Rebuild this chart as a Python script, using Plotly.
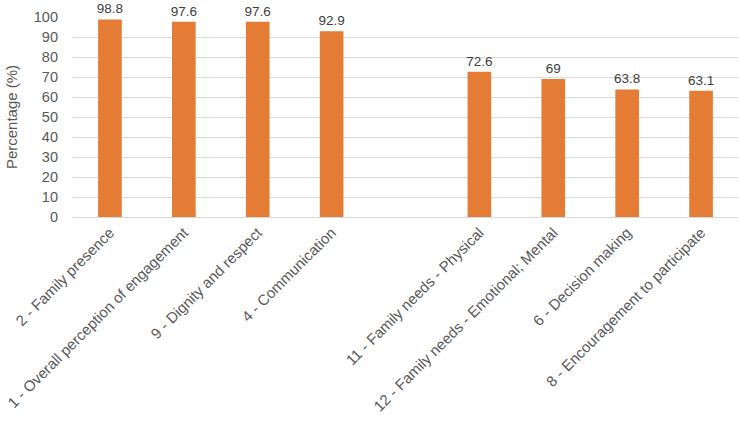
import plotly.graph_objects as go

# domains, with a blank slot separating the two groups
categories = ["2 - Family presence",
              "1 - Overall perception of engagement",
              "9 - Dignity and respect",
              "4 - Communication",
              " ",
              "11 - Family needs - Physical",
              "12 - Family needs - Emotional; Mental",
              "6 - Decision making",
              "8 - Encouragement to participate"]
percentages = [98.8, 97.6, 97.6, 92.9, None, 72.6, 69, 63.8, 63.1]
bar_labels = ["98.8", "97.6", "97.6", "92.9", "", "72.6", "69", "63.8", "63.1"]

fig = go.Figure(go.Bar(
    x=categories, y=percentages,
    text=bar_labels, textposition="outside", cliponaxis=False,
    textfont=dict(size=13.5, color="#404040"),
    marker=dict(color="#E47C36", line=dict(width=0)),
    width=0.32,
))

fig.update_layout(
    width=739, height=424,
    margin=dict(l=73, r=1, t=17, b=207),
    paper_bgcolor="white", plot_bgcolor="white",
    font=dict(family="Liberation Sans, Arial, sans-serif", color="#595959", size=14),
    showlegend=False,
    uniformtext=dict(minsize=13.5, mode="show"),
)
fig.update_xaxes(tickangle=-45, showgrid=False, showline=True, automargin=False,
                 linecolor="#D9D9D9", linewidth=1, ticks="",
                 tickfont=dict(size=15, color="#595959"))
fig.update_yaxes(range=[0, 100], dtick=10, showgrid=True, gridcolor="#D9D9D9",
                 zeroline=False, ticks="", automargin=False, ticklabelstandoff=14,
                 tickfont=dict(size=14.5, color="#595959"),
                 title=dict(text="Percentage (%)", font=dict(size=15, color="#595959"),
                            standoff=12))

fig.write_html("out.html", config={"displayModeBar": False},
               post_script="document.body.style.margin='0';")
